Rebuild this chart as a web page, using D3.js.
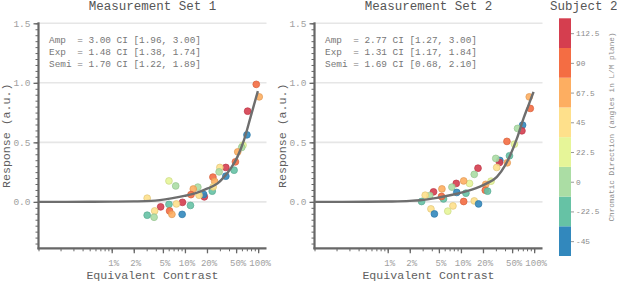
<!DOCTYPE html>
<html>
<head>
<meta charset="utf-8">
<script src="https://cdn.jsdelivr.net/npm/d3@7"></script>
<style>
  body { margin: 0; background: #fff; }
  svg text { font-family: "Liberation Mono", "DejaVu Sans Mono", monospace; }
</style>
</head>
<body>
<svg id="chart"></svg>
<script>
// colour key (chromatic direction, degrees)
const angles = [-45, -22.5, 0, 22.5, 45, 67.5, 90, 112.5];
const angleColors = ["#3288bd", "#66c2a5", "#abdda4", "#e6f598", "#fee08b", "#fdae61", "#f46d43", "#d53e4f"];

const xTickValues = [0.01, 0.02, 0.05, 0.1, 0.2, 0.5, 1];
const yTickValues = [0, 0.5, 1, 1.5];

// Measurement Set 1
const set1Contrast = [0.942, 1.035, 0.718, 0.703, 0.621, 0.596, 0.526, 0.489, 0.469, 0.362, 0.362, 0.300, 0.293, 0.241, 0.255, 0.236, 0.243, 0.184, 0.180, 0.150, 0.130, 0.156, 0.121, 0.119, 0.0925, 0.0916, 0.0765, 0.0748, 0.0605, 0.0605, 0.0617, 0.0664, 0.0466, 0.0386, 0.0379, 0.0305, 0.0305];
const set1Response = [0.987, 0.882, 0.762, 0.563, 0.476, 0.457, 0.420, 0.336, 0.266, 0.289, 0.216, 0.289, 0.252, 0.208, 0.171, 0.090, 0.126, 0.042, 0.062, 0.124, 0.108, 0.056, 0.061, -0.030, -0.004, -0.105, -0.017, 0.134, 0.176, -0.021, -0.076, -0.105, -0.042, -0.076, -0.129, -0.112, 0.031];
const set1Angle = [90, 67.5, 112.5, -45, 22.5, 0, 67.5, 90, -22.5, 112.5, -45, 45, 0, 90, 67.5, -22.5, 45, 112.5, -45, 0, 67.5, 45, 90, -22.5, 112.5, -45, 45, 0, 22.5, -22.5, 90, 67.5, 112.5, 45, 0, -22.5, 45];
const set1FitContrast = [0.001, 0.005, 0.01, 0.02, 0.0348, 0.065, 0.098, 0.150, 0.204, 0.279, 0.343, 0.423, 0.521, 0.640, 0.789, 0.991];
const set1FitResponse = [0, 0.001, 0.002, 0.004, 0.008, 0.029, 0.050, 0.079, 0.113, 0.155, 0.210, 0.281, 0.378, 0.518, 0.714, 0.930];
const set1Params = ["Amp  = 3.00 CI [1.96, 3.00]", "Exp  = 1.48 CI [1.38, 1.74]", "Semi = 1.70 CI [1.22, 1.89]"];

// Measurement Set 2
const set2Contrast = [0.857, 0.885, 0.695, 0.681, 0.593, 0.538, 0.425, 0.460, 0.429, 0.340, 0.336, 0.299, 0.308, 0.171, 0.152, 0.258, 0.218, 0.215, 0.231, 0.131, 0.117, 0.109, 0.152, 0.174, 0.109, 0.0863, 0.0753, 0.0877, 0.0778, 0.0661, 0.0578, 0.0550, 0.0543, 0.0422, 0.0375, 0.0325, 0.0290, 0.0389, 0.0434];
const set2Response = [0.882, 0.785, 0.645, 0.597, 0.617, 0.485, 0.508, 0.387, 0.328, 0.348, 0.331, 0.365, 0.289, 0.283, 0.231, 0.174, 0.147, 0.098, 0.090, 0.155, 0.073, 0.176, 0.008, -0.017, 0.003, 0.155, 0.124, 0.079, -0.034, -0.078, 0.025, 0.109, 0.045, 0.084, 0.052, 0.056, 0.003, -0.059, -0.101];
const set2Angle = [67.5, 90, -45, 112.5, 0, 22.5, 90, -22.5, 67.5, -45, 112.5, 0, 45, 112.5, 0, 22.5, 67.5, 90, -22.5, 22.5, -22.5, 67.5, 45, -45, 90, 112.5, 0, -45, 45, 22.5, -22.5, 67.5, 90, 112.5, 0, 45, -22.5, 45, -45];
const set2FitContrast = [0.001, 0.005, 0.01, 0.02, 0.0278, 0.047, 0.0793, 0.134, 0.226, 0.310, 0.403, 0.471, 0.582, 0.716, 0.838, 0.981];
const set2FitResponse = [0, 0.001, 0.003, 0.008, 0.014, 0.034, 0.062, 0.098, 0.155, 0.210, 0.308, 0.392, 0.533, 0.701, 0.813, 0.924];
const set2Params = ["Amp  = 2.77 CI [1.27, 3.00]", "Exp  = 1.31 CI [1.17, 1.84]", "Semi = 1.69 CI [0.68, 2.10]"];

const svgWidth = 617, svgHeight = 283;
const plotW = 228, plotTop = 23.3, plotBottom = 248.3;
const axisColor = "#676767";

const svg = d3.select("#chart")
  .attr("width", svgWidth)
  .attr("height", svgHeight);

const color = d3.scaleOrdinal().domain(angles).range(angleColors);

function drawPanel(x0, title, contrast, response, angle, fitC, fitR, params) {
  const x = d3.scaleLog().domain([0.001, 1.3]).range([x0, x0 + plotW]);
  const y = d3.scaleLinear().domain([-0.39, 1.5]).range([plotBottom, plotTop]);
  const g = svg.append("g");

  // grid
  g.selectAll(".grid")
    .data(yTickValues)
    .enter()
    .append("line")
    .attr("x1", x0).attr("x2", x0 + plotW)
    .attr("y1", d => y(d)).attr("y2", d => y(d))
    .attr("stroke", "#e6e6e6")
    .attr("stroke-width", 1.6);

  // y axis: minor + major
  const yMinor = d3.range(-7, 31).map(i => i * 0.05).filter(v => v >= -0.36);
  g.append("g")
    .attr("transform", `translate(${x0},0)`)
    .call(d3.axisLeft(y).tickValues(yMinor).tickSize(3).tickSizeOuter(0).tickFormat(""))
    .call(a => a.select(".domain").remove())
    .call(a => a.selectAll("line").attr("stroke", axisColor));
  g.append("g")
    .attr("transform", `translate(${x0},0)`)
    .call(d3.axisLeft(y).tickValues(yTickValues).tickSize(5).tickSizeOuter(0).tickPadding(3).tickFormat(d3.format(".1f")))
    .call(a => a.select(".domain").remove())
    .call(a => a.selectAll("line").attr("stroke", axisColor).attr("stroke-width", 1.3))
    .call(a => a.selectAll("text").style("font-size", "9.5px").style("fill", "#a0a0a0")
      .style("font-family", "Liberation Mono, monospace"));

  // x axis: minor + major
  g.append("g")
    .attr("transform", `translate(0,${plotBottom})`)
    .call(d3.axisBottom(x).tickValues(x.ticks()).tickSize(3).tickSizeOuter(0).tickFormat(""))
    .call(a => a.select(".domain").remove())
    .call(a => a.selectAll("line").attr("stroke", axisColor));
  g.append("g")
    .attr("transform", `translate(0,${plotBottom})`)
    .call(d3.axisBottom(x).tickValues(xTickValues).tickSize(5).tickSizeOuter(0).tickPadding(6)
      .tickFormat(d => Math.round(d * 100) + "%"))
    .call(a => a.select(".domain").remove())
    .call(a => a.selectAll("line").attr("stroke", axisColor).attr("stroke-width", 1.3))
    .call(a => a.selectAll("text").attr("dx", 1.5).style("font-size", "9px").style("fill", "#a0a0a0")
      .style("font-family", "Liberation Mono, monospace"));

  // axis lines
  g.append("line")
    .attr("x1", x0).attr("x2", x0)
    .attr("y1", plotTop - 1).attr("y2", plotBottom + 1)
    .attr("stroke", axisColor).attr("stroke-width", 2.2);
  g.append("line")
    .attr("x1", x0 - 1).attr("x2", x0 + plotW)
    .attr("y1", plotBottom).attr("y2", plotBottom)
    .attr("stroke", axisColor).attr("stroke-width", 2.2);

  // points
  const pts = contrast.map((c, i) => ({ c, r: response[i], a: angle[i] }));
  g.selectAll(".pt")
    .data(pts)
    .enter()
    .append("circle")
    .attr("cx", d => x(d.c))
    .attr("cy", d => y(d.r))
    .attr("r", 3.4)
    .attr("fill", d => color(d.a))
    .attr("fill-opacity", 0.9)
    .attr("stroke", d => d3.color(color(d.a)).darker(0.35))
    .attr("stroke-width", 0.7);

  // fitted curve
  const fit = fitC.map((c, i) => [c, fitR[i]]);
  g.append("path")
    .datum(fit)
    .attr("fill", "none")
    .attr("stroke", "#6e6e6e")
    .attr("stroke-width", 2.4)
    .attr("d", d3.line().x(d => x(d[0])).y(d => y(d[1])).curve(d3.curveMonotoneX));

  // fit parameters
  g.selectAll(".param")
    .data(params)
    .enter()
    .append("text")
    .attr("x", x0 + 10.5)
    .attr("y", (d, i) => 42.5 + i * 12)
    .attr("xml:space", "preserve")
    .style("white-space", "pre")
    .style("font-size", "9.4px")
    .style("fill", "#777")
    .text(d => d);

  // title
  g.append("text")
    .attr("x", x0 + plotW / 2)
    .attr("y", 9.5)
    .attr("text-anchor", "middle")
    .style("font-size", "12.5px")
    .style("fill", "#555")
    .text(title);

  // axis titles
  g.append("text")
    .attr("x", x0 + plotW / 2)
    .attr("y", 278.5)
    .attr("text-anchor", "middle")
    .style("font-size", "11.6px")
    .style("fill", "#5e5e5e")
    .text("Equivalent Contrast");
  g.append("text")
    .attr("transform", `translate(${x0 - 29},${(plotTop + plotBottom) / 2}) rotate(-90)`)
    .attr("text-anchor", "middle")
    .style("font-size", "11.6px")
    .style("fill", "#5e5e5e")
    .text("Response (a.u.)");
}

drawPanel(38.5, "Measurement Set 1", set1Contrast, set1Response, set1Angle, set1FitContrast, set1FitResponse, set1Params);
drawPanel(314.5, "Measurement Set 2", set2Contrast, set2Response, set2Angle, set2FitContrast, set2FitResponse, set2Params);

// colour bar
const cb = d3.scaleLinear().domain([-56.25, 123.75]).range([256, 18.3]);
const cbX = 559, cbW = 12;
svg.append("g")
  .selectAll("rect")
  .data(angles)
  .enter()
  .append("rect")
  .attr("x", cbX)
  .attr("y", d => cb(d + 11.25))
  .attr("width", cbW)
  .attr("height", d => cb(d - 11.25) - cb(d + 11.25))
  .attr("fill", d => color(d));

svg.append("g")
  .attr("transform", `translate(${cbX + cbW},0)`)
  .call(d3.axisRight(cb).tickValues(angles).tickSize(3).tickSizeOuter(0).tickPadding(2).tickFormat(d => String(d)))
  .call(a => a.select(".domain").remove())
  .call(a => a.selectAll("line").attr("stroke", "#999"))
  .call(a => a.selectAll("text").style("font-size", "7.8px").style("fill", "#8a8a8a")
    .style("font-family", "Liberation Mono, monospace"));

svg.append("text")
  .attr("x", 550)
  .attr("y", 9.5)
  .style("font-size", "12.5px")
  .style("fill", "#555")
  .text("Subject 2");

svg.append("text")
  .attr("transform", "translate(613.5,127) rotate(-90)")
  .attr("text-anchor", "middle")
  .style("font-size", "7.7px")
  .style("fill", "#8a8a8a")
  .text("Chromatic Direction (angles in L/M plane)");
</script>
</body>
</html>
